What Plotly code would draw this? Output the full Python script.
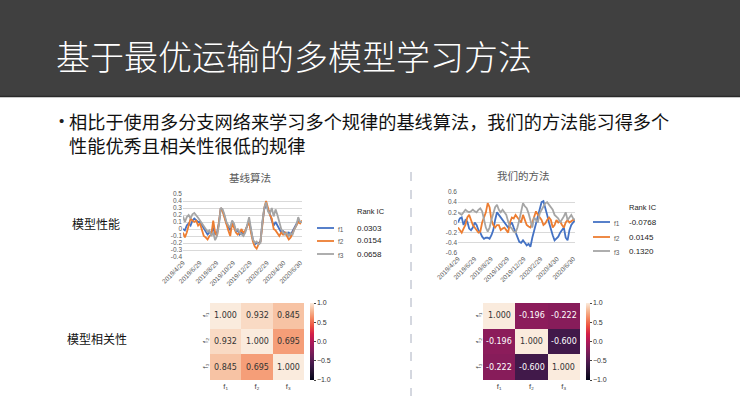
import pandas as pd
import plotly.graph_objects as go

W, H = 740, 417

# ---- data ----
dates = pd.date_range("2019-04-29", "2020-07-06", periods=64)
tick_dates = ["2019-04-29", "2019-06-29", "2019-08-29", "2019-10-29",
              "2019-12-29", "2020-02-29", "2020-04-30", "2020-06-30"]
tick_labels = ["2019/4/29", "2019/6/29", "2019/8/29", "2019/10/29",
               "2019/12/29", "2020/2/29", "2020/4/30", "2020/6/30"]

base_f1 = [0.00, -0.02, 0.05, 0.08, 0.05, 0.12, 0.15, 0.12, 0.10, 0.10, 0.05, 0.00, -0.05, -0.08, -0.05, -0.05,
           0.02, -0.08, -0.05, 0.08, 0.30, 0.26, 0.18, 0.08, 0.03, -0.02, 0.10, 0.05, -0.03, -0.02, -0.08, -0.05,
           -0.08, -0.03, 0.05, 0.12, -0.02, -0.15, -0.22, -0.20, -0.20, -0.18, 0.08, 0.28, 0.35, 0.28, 0.22, 0.12,
           0.05, 0.10, 0.05, -0.02, -0.05, -0.03, -0.05, -0.08, -0.05, -0.08, -0.03, 0.02, 0.05, 0.12, 0.10, 0.10]
base_f2 = [-0.05, -0.12, -0.05, 0.05, 0.15, 0.12, 0.10, 0.12, 0.05, 0.08, 0.00, -0.10, -0.12, -0.15, -0.10, -0.08,
           0.12, -0.05, -0.10, 0.10, 0.30, 0.25, 0.15, 0.05, -0.02, -0.10, 0.08, 0.02, -0.05, -0.08, -0.05, 0.00,
           -0.06, -0.02, 0.05, 0.10, -0.05, -0.18, -0.25, -0.28, -0.22, -0.18, 0.05, 0.30, 0.40, 0.30, 0.20, 0.15,
           0.00, -0.02, -0.06, -0.10, -0.05, -0.08, -0.05, -0.10, -0.15, -0.12, -0.05, 0.00, 0.05, 0.10, 0.08, 0.12]
base_f3 = [0.18, 0.10, 0.17, 0.20, 0.15, 0.21, 0.23, 0.20, 0.16, 0.12, 0.08, 0.05, 0.00, -0.04, -0.02, -0.10,
           -0.05, -0.16, -0.10, 0.05, 0.30, 0.28, 0.20, 0.10, 0.05, 0.02, 0.12, 0.08, -0.02, 0.00, -0.05, -0.08,
           -0.10, -0.05, 0.08, 0.17, 0.00, -0.15, -0.20, -0.18, -0.22, -0.20, 0.10, 0.30, 0.38, 0.25, 0.22, 0.30,
           0.18, 0.28, 0.20, 0.10, 0.00, -0.05, -0.08, -0.05, -0.10, -0.06, -0.08, 0.00, 0.05, 0.17, 0.10, 0.10]

ours_f1 = [0.00, 0.08, 0.10, -0.05, 0.05, 0.02, -0.12, -0.15, -0.10, 0.00, -0.05, -0.15, -0.20, -0.28, -0.32, -0.30,
           -0.30, -0.32, -0.25, -0.15, 0.05, 0.20, 0.15, 0.10, 0.05, 0.00, -0.05, -0.10, -0.05, 0.00, -0.10, -0.20,
           -0.30, -0.38, -0.40, -0.35, -0.40, -0.45, -0.42, -0.48, -0.30, -0.15, 0.00, 0.15, 0.30, 0.40, 0.42, 0.30,
           0.15, 0.00, -0.15, -0.25, -0.35, -0.32, -0.28, -0.20, -0.15, -0.10, -0.30, -0.35, -0.15, -0.05, 0.00, 0.05]
ours_f2 = [-0.10, -0.15, -0.20, -0.12, -0.05, 0.10, 0.15, 0.05, -0.05, -0.10, -0.15, -0.20, -0.18, 0.00, 0.10, 0.20,
           0.38, 0.30, 0.05, -0.05, -0.10, -0.05, -0.05, -0.15, -0.12, -0.10, -0.15, -0.20, 0.00, 0.10, 0.08, 0.15,
           0.10, 0.05, 0.00, 0.15, 0.05, -0.05, -0.08, -0.10, 0.00, 0.10, 0.22, 0.15, 0.10, 0.05, -0.05, -0.02,
           0.05, 0.10, 0.05, -0.10, -0.05, 0.05, 0.00, 0.02, -0.05, -0.10, 0.00, 0.05, 0.00, 0.02, 0.05, 0.05]
ours_f3 = [0.20, 0.18, 0.15, 0.20, 0.25, 0.22, 0.20, 0.22, 0.25, 0.22, 0.20, 0.25, 0.28, 0.22, 0.05, -0.10,
           -0.18, -0.10, 0.05, 0.20, 0.30, 0.35, 0.25, 0.20, 0.25, 0.20, 0.15, 0.02, -0.08, -0.12, -0.18, -0.20,
           -0.10, 0.05, 0.20, 0.38, 0.32, 0.28, 0.18, 0.05, -0.10, 0.10, 0.05, 0.00, 0.18, 0.25, 0.32, 0.38,
           0.40, 0.35, 0.32, 0.25, 0.15, 0.12, 0.08, 0.00, 0.05, 0.12, 0.20, 0.05, 0.10, 0.15, 0.08, 0.05]

series_names = ["f1", "f2", "f3"]
base_rank_ic = ["0.0303", "0.0154", "0.0658"]
ours_rank_ic = ["-0.0768", "0.0145", "0.1320"]

base_corr = [[1.000, 0.932, 0.845],
             [0.932, 1.000, 0.695],
             [0.845, 0.695, 1.000]]
ours_corr = [[1.000, -0.196, -0.222],
             [-0.196, 1.000, -0.600],
             [-0.222, -0.600, 1.000]]
corr_labels = ["f₁", "f₂", "f₃"]

colors = ["#4472C4", "#ED7D31", "#A5A5A5"]

rocket = [[0.0, "#03051a"], [0.1, "#23122f"], [0.2, "#41194a"], [0.3, "#651d56"],
          [0.4, "#8b1c5b"], [0.5, "#b11858"], [0.6, "#d52047"], [0.7, "#ed5040"],
          [0.8, "#f4865f"], [0.9, "#f6b894"], [1.0, "#faebdd"]]


def px(x):
    return x / W


def py(y):
    return 1 - y / H


CJK = "Noto Sans CJK SC"
fig = go.Figure()

# ---- line charts ----
line_charts = [
    dict(ax="", vals=[base_f1, base_f2, base_f3], xd=[183, 302], yd=[257, 194],
         rng=[-0.4, 0.5], ticks=[-0.4, -0.3, -0.2, -0.1, 0, 0.1, 0.2, 0.3, 0.4, 0.5]),
    dict(ax="2", vals=[ours_f1, ours_f2, ours_f3], xd=[458, 575], yd=[253, 192],
         rng=[-0.6, 0.6], ticks=[-0.6, -0.4, -0.2, 0, 0.2, 0.4, 0.6]),
]
for c in line_charts:
    for name, vals, col in zip(series_names, c["vals"], colors):
        fig.add_trace(go.Scatter(x=dates, y=vals, mode="lines", name=name,
                                 line=dict(color=col, width=1.8),
                                 xaxis="x" + c["ax"], yaxis="y" + c["ax"], showlegend=False))
    tick_text = ["0" if t == 0 else f"{t:.1f}" for t in c["ticks"]]
    fig.layout["xaxis" + c["ax"]] = dict(
        domain=[px(c["xd"][0]), px(c["xd"][1])], anchor="y" + c["ax"], automargin=False,
        range=[dates[0], dates[-1]], tickvals=tick_dates, ticktext=tick_labels,
        tickangle=-45, tickfont=dict(size=6.5, color="#595959"), showgrid=False,
        showline=False, zeroline=False, ticks="")
    fig.layout["yaxis" + c["ax"]] = dict(
        domain=[py(c["yd"][0]), py(c["yd"][1])], anchor="x" + c["ax"], automargin=False,
        range=c["rng"], tickvals=c["ticks"], ticktext=tick_text,
        tickfont=dict(size=6.5, color="#595959"), gridcolor="#d9d9d9", gridwidth=1,
        zeroline=False, showline=False, ticks="")

# ---- heatmaps ----
heat_charts = [
    dict(ax="3", z=base_corr, xd=[210, 304], cb=310),
    dict(ax="4", z=ours_corr, xd=[483, 580], cb=586),
]
for h in heat_charts:
    fig.add_trace(go.Heatmap(
        z=h["z"], x=corr_labels, y=corr_labels, colorscale=rocket, zmin=-1, zmax=1,
        xaxis="x" + h["ax"], yaxis="y" + h["ax"],
        colorbar=dict(x=px(h["cb"]), xanchor="left", y=py(341.5), yanchor="middle",
                      thickness=4, len=77, lenmode="pixels", outlinewidth=0,
                      tickvals=[-1, -0.5, 0, 0.5, 1],
                      ticktext=["−1.0", "−0.5", "0.0", "0.5", "1.0"],
                      ticks="outside", ticklen=2, tickcolor="#444",
                      tickfont=dict(size=7, color="#333"), xpad=0, ypad=0)))
    fig.layout["xaxis" + h["ax"]] = dict(
        domain=[px(h["xd"][0]), px(h["xd"][1])], anchor="y" + h["ax"], automargin=False,
        tickfont=dict(size=7.5, color="#444"), showgrid=False, zeroline=False, ticks="")
    fig.layout["yaxis" + h["ax"]] = dict(
        domain=[py(380), py(303)], anchor="x" + h["ax"], autorange="reversed", automargin=False,
        tickangle=-90, tickfont=dict(size=7.5, color="#444"), showgrid=False,
        zeroline=False, ticks="")
    for i, row in enumerate(h["z"]):
        for j, v in enumerate(row):
            fig.add_annotation(x=corr_labels[j], y=corr_labels[i], text=f"{v:.3f}",
                               xref="x" + h["ax"], yref="y" + h["ax"], showarrow=False,
                               font=dict(size=8, color="#333333" if v > 0.3 else "white",
                                         family="DejaVu Sans"))

# ---- slide decoration ----
shapes = [
    dict(type="rect", xref="paper", yref="paper", x0=0, x1=1, y0=py(96), y1=1,
         fillcolor="#404040", line=dict(width=0), layer="below"),
    dict(type="line", xref="paper", yref="paper", x0=0, x1=1, y0=py(96.5), y1=py(96.5),
         line=dict(color="#2a2a2a", width=1.5)),
    dict(type="line", xref="paper", yref="paper", x0=px(411), x1=px(411), y0=py(172), y1=py(396),
         line=dict(color="#aab0c0", width=1, dash="dash")),
]

legend_pos = [
    dict(x=317, ys=[228, 241, 254], ic_x=355, ic_y=212, ics=base_rank_ic),
    dict(x=593, ys=[222, 237, 251], ic_x=627, ic_y=207, ics=ours_rank_ic),
]
for lg in legend_pos:
    for name, col, yy, ic in zip(series_names, colors, lg["ys"], lg["ics"]):
        shapes.append(dict(type="line", xref="paper", yref="paper",
                           x0=px(lg["x"]), x1=px(lg["x"] + 17), y0=py(yy), y1=py(yy),
                           line=dict(color=col, width=1.8)))
        fig.add_annotation(x=px(lg["x"] + 19), y=py(yy + 1), text=name, xref="paper", yref="paper",
                           showarrow=False, xanchor="left",
                           font=dict(size=6.5, color="#595959", family="Liberation Sans"))
        fig.add_annotation(x=px(lg["ic_x"]), y=py(yy), text=ic, xref="paper", yref="paper",
                           showarrow=False, xanchor="left",
                           font=dict(size=8, color="#222", family="Liberation Sans"))
    fig.add_annotation(x=px(lg["ic_x"]), y=py(lg["ic_y"]), text="Rank IC", xref="paper", yref="paper",
                       showarrow=False, xanchor="left",
                       font=dict(size=7.5, color="#222", family="Liberation Sans"))

bullet_text = ("相比于使用多分支网络来学习多个规律的基线算法，我们的方法能习得多个"
               "<br>性能优秀且相关性很低的规律")

texts = [
    dict(x=54, y=55, t="基于最优运输的多模型学习方法", s=34, c="white", a="left", w=300, f=CJK),
    dict(x=61, y=121, t="•", s=15, c="#222", a="center", w=400, f="Liberation Sans"),
    dict(x=67, y=133, t=bullet_text, s=18.2, c="#111", a="left", w=400, f=CJK),
    dict(x=250, y=177, t="基线算法", s=10.5, c="#595959", a="center", w=400, f=CJK),
    dict(x=523, y=175, t="我们的方法", s=10.5, c="#595959", a="center", w=400, f=CJK),
    dict(x=70, y=223, t="模型性能", s=12, c="#111", a="left", w=400, f=CJK),
    dict(x=65, y=338, t="模型相关性", s=12, c="#111", a="left", w=400, f=CJK),
]
for t in texts:
    fig.add_annotation(x=px(t["x"]), y=py(t["y"]), text=t["t"], xref="paper", yref="paper",
                       showarrow=False, xanchor=t["a"], yanchor="middle", align="left",
                       font=dict(size=t["s"], color=t["c"], family=t["f"], weight=t["w"]))

fig.update_layout(width=W, height=H, margin=dict(l=0, r=0, t=0, b=0, autoexpand=False),
                  paper_bgcolor="white", plot_bgcolor="white", shapes=shapes,
                  font=dict(family="Liberation Sans"))

fig.write_html("out.html", config={"displayModeBar": False},
               post_script="document.body.style.margin='0';document.body.style.overflow='hidden';")
